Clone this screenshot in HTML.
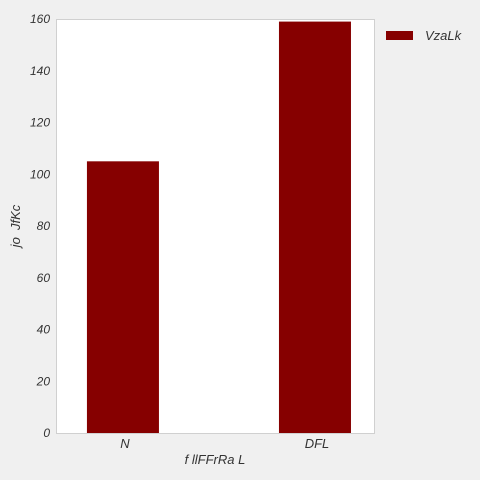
<!DOCTYPE html>
<html><head><meta charset="utf-8"><style>
html,body{margin:0;background:#f0f0f0;width:480px;height:480px;overflow:hidden;}
svg{display:block;}
svg text{font-family:"Liberation Sans",sans-serif;font-style:italic;fill:#333;white-space:pre;}
</style></head><body>
<svg width="480" height="480">
<rect x="0" y="0" width="480" height="480" fill="#f0f0f0"/>
<rect x="56.5" y="19.5" width="318" height="414" fill="#fff" stroke="#d0d0d0" stroke-width="1"/>
<g id="bars"></g><g id="yt"></g><g id="xt"></g>
<text x="215" y="464" font-size="13" text-anchor="middle">f llFFrRa L</text>
<text transform="translate(20,226) rotate(-90)" font-size="13" text-anchor="middle">jo  JfKc</text>
<rect x="386" y="31" width="27" height="9" fill="#860000"/>
<text x="425" y="40" font-size="13">VzaLk</text>
</svg>
<script>
const categories=["N","DFL"];
const values=[105,159];
const yTicks=[0,20,40,60,80,100,120,140,160];
const ns="http://www.w3.org/2000/svg";
const x0=56.5,x1=374.5,y0=433,y1=19,ymax=160;
const xmin=-0.346,xmax=1.31;
function ys(v){return y0-(v/ymax)*(y0-y1);}
function xc(i){return x0+(i-xmin)/(xmax-xmin)*(x1-x0);}
const bw=0.375*(x1-x0)/(xmax-xmin);
const bars=document.getElementById('bars');
values.forEach((v,i)=>{
 const r=document.createElementNS(ns,'rect');
 r.setAttribute('x',xc(i)-bw/2);r.setAttribute('y',ys(v));
 r.setAttribute('width',bw);r.setAttribute('height',y0-ys(v));
 r.setAttribute('fill','#860000');
 
 
 bars.appendChild(r);
 const t=document.createElementNS(ns,'text');
 t.setAttribute('x',xc(i)+2);t.setAttribute('y',448);
 t.setAttribute('font-size','13');t.setAttribute('text-anchor','middle');
 t.textContent=categories[i];
 
 
 document.getElementById('xt').appendChild(t);
});
yTicks.forEach(v=>{
 const t=document.createElementNS(ns,'text');
 t.setAttribute('x',50);t.setAttribute('y',ys(v)+4);
 t.setAttribute('font-size','12');t.setAttribute('text-anchor','end');
 t.textContent=v;
 
 
 document.getElementById('yt').appendChild(t);
});
</script>
</body></html>
